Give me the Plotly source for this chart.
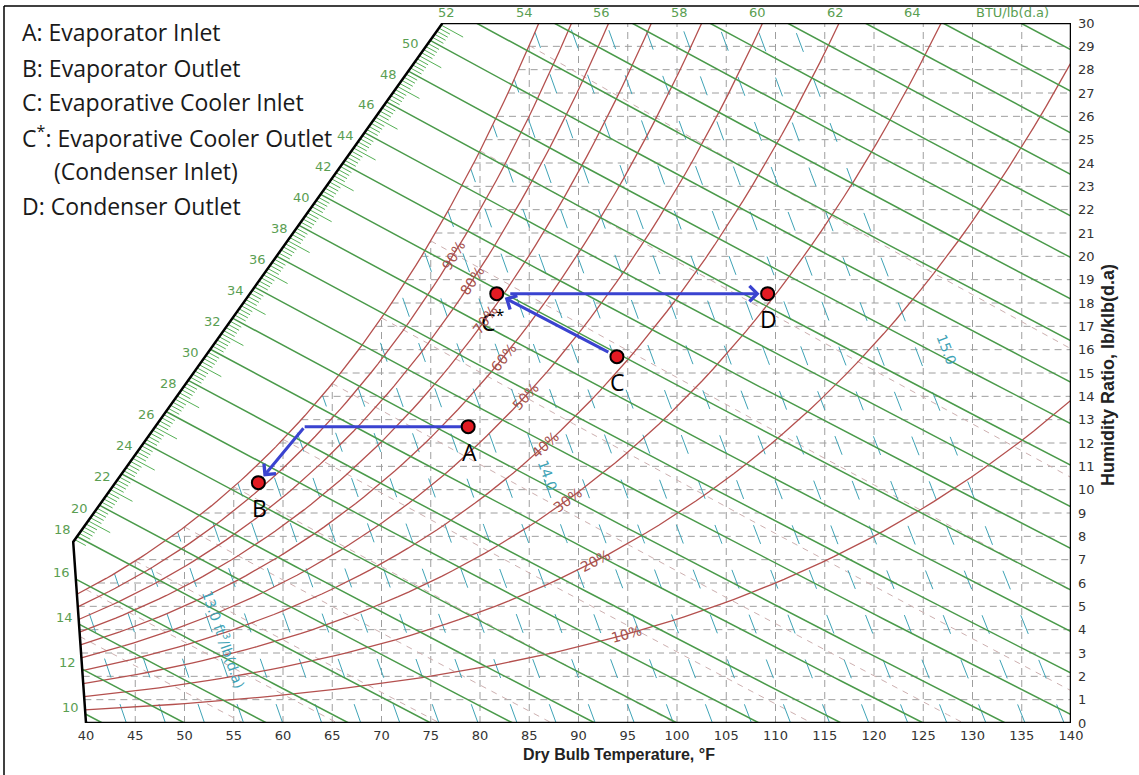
import numpy as np
import plotly.graph_objects as go

# ---------------- cycle data ----------------
state_names = ["A", "B", "C", "C<sup>*</sup>", "D"]
state_tdb = [78.8, 57.5, 93.9, 81.7, 109.2]   # dry bulb, °F
state_w = [12.7, 10.3, 15.7, 18.4, 18.4]      # humidity ratio, lb/klb(d.a)

# process legs, listed tail first
leg_ab_tdb = [78.8, 62.2, 57.5]
leg_ab_w = [12.7, 12.7, 10.3]
leg_cc_tdb = [93.9, 81.7]
leg_cc_w = [15.7, 18.4]
leg_cd_tdb = [81.7, 109.2]
leg_cd_w = [18.4, 18.4]

legend_text = [
    "A: Evaporator Inlet",
    "B: Evaporator Outlet",
    "C: Evaporative Cooler Inlet",
    "C<sup>*</sup>: Evaporative Cooler Outlet",
    "(Condenser Inlet)",
    "D: Condenser Outlet",
]

# ---------------- chart scales ----------------
tdb_ticks = list(range(40, 141, 5))
w_ticks = list(range(0, 31))
rh_levels = [10, 20, 30, 40, 50, 60, 70, 80, 90, 100]
enthalpy_levels = list(range(10, 67, 2))
enthalpy_labelled = list(range(10, 65, 2))
volume_levels = [12.6, 12.7, 12.8, 12.9, 13.0, 13.1, 13.2, 13.3, 13.4, 13.5, 13.6,
                 13.7, 13.8, 13.9, 14.0, 14.1, 14.2, 14.3, 14.4, 14.5, 14.6, 14.7,
                 14.8, 14.9, 15.0, 15.1]
wetbulb_levels = [35, 40, 45, 50, 55, 60, 65, 70, 75, 80, 85]
P_MOIST_KPA = 92.0      # pressure used for the moisture (RH / saturation) curves
P_VOL_PSIA = 14.696     # pressure used for the specific-volume lines

# ---------------- page geometry ----------------
FIG_W, FIG_H = 1139, 775
M_L, M_R, M_T, M_B = 60, 68, 23, 52
PLOT_W = FIG_W - M_L - M_R
PLOT_H = FIG_H - M_T - M_B
PX_PER_F = 985 / 100.0
PX_PER_W = PLOT_H / 30.0
T_LO = 140 - PLOT_W / PX_PER_F

# outline of the chart: lower-left edge, oblique enthalpy scale, top, right
T_KNEE, W_KNEE = 38.7, 7.76
T_TOP_LEFT = 76.2

GREEN = "#4a9a4a"
GREEN_LBL = "#5a9e52"
RED = "#b4504e"
RED_LBL = "#a5524e"
TEAL = "#3fa3b6"
GRID = "#9e9e9e"
WB = "#cdb0b0"
BLUE = "#3a43d0"
TEXT_FONT = "Open Sans"


def px2paper_x(px):
    return (px - M_L) / PLOT_W


def py2paper_y(py):
    return 1 - (py - M_T) / PLOT_H


# ---------------- psychrometrics ----------------
def pws_kpa(t_f):
    tc = (np.asarray(t_f, float) - 32) / 1.8
    return 0.61094 * np.exp(17.625 * tc / (tc + 243.04))


def w_rh(t_f, rh):
    pw = rh * pws_kpa(t_f)
    return 1000 * 0.621945 * pw / (P_MOIST_KPA - pw)


def w_sat(t_f):
    return w_rh(t_f, 1.0)


def w_enth(t_f, h):
    t_f = np.asarray(t_f, float)
    return 1000 * (h - 0.24 * t_f) / (1061 + 0.444 * t_f)


def t_vol(w, v):
    w = np.asarray(w, float)
    return v * P_VOL_PSIA / (0.370486 * (1 + 1.607858 * w / 1000)) - 459.67


def w_wetbulb(t_f, twb):
    t_f = np.asarray(t_f, float)
    ws = float(w_sat(twb)) / 1000
    return 1000 * ((1093 - 0.556 * twb) * ws - 0.240 * (t_f - twb)) / (1093 + 0.444 * t_f - twb)


def t_left(w):
    w = np.asarray(w, float)
    lower = 40 - (40 - T_KNEE) * w / W_KNEE
    upper = T_KNEE + (T_TOP_LEFT - T_KNEE) * (w - W_KNEE) / (30 - W_KNEE)
    return np.where(w <= W_KNEE, lower, upper)


def margin(t, w, under_sat):
    t = np.asarray(t, float)
    w = np.asarray(w, float)
    m = np.minimum.reduce([(t - t_left(w)) * PX_PER_F, (140 - t) * PX_PER_F,
                           w * PX_PER_W, (30 - w) * PX_PER_W])
    if under_sat:
        m = np.minimum(m, (w_sat(t) - w) * PX_PER_W + 1e-9)
    return m


def clip_curve(f_t, f_w, s0, s1, under_sat=False, n_scan=500, n_out=80):
    s = np.linspace(s0, s1, n_scan)
    m = margin(f_t(s), f_w(s), under_sat)
    idx = np.where(m >= 0)[0]
    if len(idx) < 2:
        return None

    def refine(a, b):
        for _ in range(50):
            c = 0.5 * (a + b)
            if margin(f_t(c), f_w(c), under_sat) >= 0:
                b = c
            else:
                a = c
        return b

    i0, i1 = idx[0], idx[-1]
    sa = s[i0] if i0 == 0 else refine(s[i0 - 1], s[i0])
    sb = s[i1] if i1 == n_scan - 1 else refine(s[i1 + 1], s[i1])
    ss = np.linspace(sa, sb, n_out)
    return np.asarray(f_t(ss), float), np.asarray(f_w(ss), float)


def joined(curves):
    xs, ys = [], []
    for c in curves:
        if c is None:
            continue
        xs += list(c[0]) + [None]
        ys += list(c[1]) + [None]
    return xs, ys


fig = go.Figure()

# dashed grid, under the saturation curve only
grid = []
for w in w_ticks[1:-1]:
    grid.append(clip_curve(lambda s: s, lambda s, w=w: np.full_like(np.asarray(s, float), w),
                           30, 141, under_sat=True))
for t in tdb_ticks[1:-1]:
    grid.append(clip_curve(lambda s, t=t: np.full_like(np.asarray(s, float), t), lambda s: s,
                           0, 30, under_sat=True))
gx, gy = joined(grid)
fig.add_trace(go.Scatter(x=gx, y=gy, mode="lines", hoverinfo="skip",
                         line=dict(color=GRID, width=1, dash="7px,5px")))

# wet-bulb lines
wb = [clip_curve(lambda s: s, lambda s, b=b: w_wetbulb(s, b), b, 160, under_sat=True)
      for b in wetbulb_levels]
wx, wy = joined(wb)
fig.add_trace(go.Scatter(x=wx, y=wy, mode="lines", hoverinfo="skip",
                         line=dict(color=WB, width=1, dash="6px,6px")))

# specific volume lines
vol = {v: clip_curve(lambda s, v=v: t_vol(s, v), lambda s: s, 0, 30, under_sat=True)
       for v in volume_levels}
vx, vy = joined(vol.values())
fig.add_trace(go.Scatter(x=vx, y=vy, mode="lines", hoverinfo="skip",
                         line=dict(color=TEAL, width=1, dash="20px,28px")))

# relative humidity curves
rh = {r: clip_curve(lambda s: s, lambda s, r=r: w_rh(s, r / 100), 34, 141) for r in rh_levels}
rx, ry = joined(rh.values())
fig.add_trace(go.Scatter(x=rx, y=ry, mode="lines", hoverinfo="skip",
                         line=dict(color=RED, width=1.3)))

# enthalpy lines
enth = {h: clip_curve(lambda s: s, lambda s, h=h: w_enth(s, h), 20, 200) for h in enthalpy_levels}
ex, ey = joined(enth.values())
fig.add_trace(go.Scatter(x=ex, y=ey, mode="lines", hoverinfo="skip",
                         line=dict(color=GREEN, width=1.5)))

# hatching along the oblique enthalpy scale
h_lo = 0.24 * T_KNEE + W_KNEE / 1000 * (1061 + 0.444 * T_KNEE)
h_hi = 0.24 * T_TOP_LEFT + 0.030 * (1061 + 0.444 * T_TOP_LEFT)
hatch = []
for k in range(int(np.ceil(h_lo * 5)), int(np.floor(h_hi * 5)) + 1):
    h = k / 5.0
    if k % 10 == 0:
        continue
    c = clip_curve(lambda s: s, lambda s, h=h: w_enth(s, h), 20, 200, n_out=2)
    if c is None:
        continue
    t0 = c[0][0]
    length = 22 if k % 5 == 0 else 11
    t1 = t0 + length / PX_PER_F
    hatch.append((np.array([t0, t1]), np.array([w_enth(t0, h), w_enth(t1, h)])))
hx, hy = joined(hatch)
fig.add_trace(go.Scatter(x=hx, y=hy, mode="lines", hoverinfo="skip",
                         line=dict(color="#55b055", width=1)))

# chart outline
fig.add_trace(go.Scatter(
    x=[40, 140, 140, T_TOP_LEFT, T_KNEE, 40],
    y=[0, 0, 30, 30, W_KNEE, 0],
    mode="lines", hoverinfo="skip", line=dict(color="black", width=2.5)))

# process legs without heads
fig.add_trace(go.Scatter(x=leg_ab_tdb[:2], y=leg_ab_w[:2], mode="lines", hoverinfo="skip",
                         line=dict(color=BLUE, width=3)))

# state points
fig.add_trace(go.Scatter(x=state_tdb, y=state_w, mode="markers", hoverinfo="skip",
                         marker=dict(size=13, color="#e31b23",
                                     line=dict(color="black", width=2))))

ann = []


# arrows (head at x/y, tail at ax/ay)
def arrow(t0, w0, t1, w1, start_off, end_off):
    ann.append(dict(x=t1, y=w1, ax=t0, ay=w0, xref="x", yref="y", axref="x", ayref="y",
                    showarrow=True, arrowhead=4, arrowsize=1, arrowwidth=3,
                    arrowcolor=BLUE, standoff=end_off, startstandoff=start_off, text=""))


arrow(leg_ab_tdb[1], leg_ab_w[1], leg_ab_tdb[2], leg_ab_w[2], 0, 8)
arrow(leg_cc_tdb[0], leg_cc_w[0], leg_cc_tdb[1], leg_cc_w[1], 8, 9)
arrow(leg_cd_tdb[0], leg_cd_w[0], leg_cd_tdb[1], leg_cd_w[1], 12, 8)

# point labels
name_shift = {"C<sup>*</sup>": (-4, -27)}
for n, t, w in zip(state_names, state_tdb, state_w):
    dx, dy = name_shift.get(n, (1, -25))
    ann.append(dict(x=t, y=w, xref="x", yref="y", text=n, showarrow=False,
                    xshift=dx, yshift=dy, font=dict(family=TEXT_FONT, size=23, color="black")))

# relative humidity labels, set on their curves
rh_label_tdb = {90: 77.26, 80: 79.19, 70: 80.51, 60: 82.34, 50: 84.57,
                40: 86.6, 30: 88.9, 20: 91.68, 10: 94.9}
for r, t in rh_label_tdb.items():
    w = float(w_rh(t, r / 100))
    d = (w_rh(t + 0.1, r / 100) - w_rh(t - 0.1, r / 100)) / 0.2
    ang = -np.degrees(np.arctan(d * PX_PER_W / PX_PER_F))
    ann.append(dict(x=t, y=w, xref="x", yref="y", text=f"{r}%", showarrow=False,
                    textangle=float(ang), font=dict(family="DejaVu Sans", size=14, color=RED_LBL)))

# specific volume labels
vol_label_pos = {13.0: (54.0, 3.6), 14.0: (86.9, 10.6), 15.0: (127.4, 16.0)}
for v, (t, w) in vol_label_pos.items():
    tl = float(t_vol(w, v))
    dx = (float(t_vol(w - 1, v)) - tl) * PX_PER_F
    ang = np.degrees(np.arctan2(PX_PER_W, dx))
    txt = f"{v:.1f} ft<sup>3</sup>/lb(d.a)" if v == 13.0 else f"{v:.1f}"
    ann.append(dict(x=t, y=w, xref="x", yref="y", text=txt, showarrow=False,
                    textangle=float(ang),
                    font=dict(family="DejaVu Sans", size=14, color=TEAL)))

# enthalpy scale labels
for h in enthalpy_labelled:
    c = enth[h]
    t0, w0 = c[0][0], c[1][0]
    f = dict(family="DejaVu Sans", size=13, color=GREEN_LBL)
    if w0 > 29.9:
        ann.append(dict(x=t0, y=30, xref="x", yref="y", text=str(h), showarrow=False,
                        xshift=-30, yshift=11, font=f))
    elif w0 > W_KNEE + 0.3:
        ann.append(dict(x=t0, y=w0, xref="x", yref="y", text=str(h), showarrow=False,
                        xanchor="right", xshift=-9, yshift=-3, font=f))
    else:
        ann.append(dict(x=t0, y=w0, xref="x", yref="y", text=str(h), showarrow=False,
                        xanchor="right", xshift=-4, yshift=7, font=f))
c66 = enth[66]
ann.append(dict(x=c66[0][0], y=30, xref="x", yref="y", text="BTU/lb(d.a)", showarrow=False,
                xshift=-8, yshift=11, font=dict(family="DejaVu Sans", size=13, color=GREEN_LBL)))

# legend text
legend_y = [32, 68, 102, 137, 171, 206]
legend_x = [20, 20, 20, 20, 52, 20]
for txt, lx, ly in zip(legend_text, legend_x, legend_y):
    ann.append(dict(x=px2paper_x(lx), y=py2paper_y(ly), xref="paper", yref="paper",
                    xanchor="left", yanchor="middle", text=txt, showarrow=False,
                    font=dict(family=TEXT_FONT, size=23, color="#1a1a1a")))

# axis titles
ann.append(dict(x=px2paper_x(619), y=py2paper_y(764), xref="paper", yref="paper",
                text="Dry Bulb Temperature, °F", showarrow=False, borderpad=0,
                font=dict(family="Liberation Sans", size=16, color="#222", weight="bold")))
ann.append(dict(x=px2paper_x(1120), y=py2paper_y(375), xref="paper", yref="paper",
                text="Humidity Ratio, lb/klb(d.a)", showarrow=False, textangle=-90,
                font=dict(family="Liberation Sans", size=18, color="#222", weight="bold")))

# figure border
shapes = [
    dict(type="line", xref="paper", yref="paper", x0=px2paper_x(4), x1=px2paper_x(4),
         y0=py2paper_y(6), y1=py2paper_y(780), line=dict(color="black", width=1.5)),
    dict(type="line", xref="paper", yref="paper", x0=px2paper_x(4), x1=px2paper_x(1145),
         y0=py2paper_y(6), y1=py2paper_y(6), line=dict(color="black", width=1.5)),
]

fig.update_layout(
    width=FIG_W, height=FIG_H,
    margin=dict(l=M_L, r=M_R, t=M_T, b=M_B, autoexpand=False),
    paper_bgcolor="white", plot_bgcolor="white",
    showlegend=False, hovermode=False,
    annotations=ann, shapes=shapes,
    xaxis=dict(range=[T_LO, 140], tickvals=tdb_ticks, showgrid=False, zeroline=False,
               showline=False, ticks="", ticklabelstandoff=3,
               tickfont=dict(family="DejaVu Sans", size=13, color="#333")),
    yaxis=dict(range=[0, 30], tickvals=w_ticks, side="right", showgrid=False, zeroline=False,
               showline=False, ticks="", ticklabelstandoff=6,
               tickfont=dict(family="DejaVu Sans", size=13, color="#333")),
)

fig.write_html("out.html", config={"displayModeBar": False})
